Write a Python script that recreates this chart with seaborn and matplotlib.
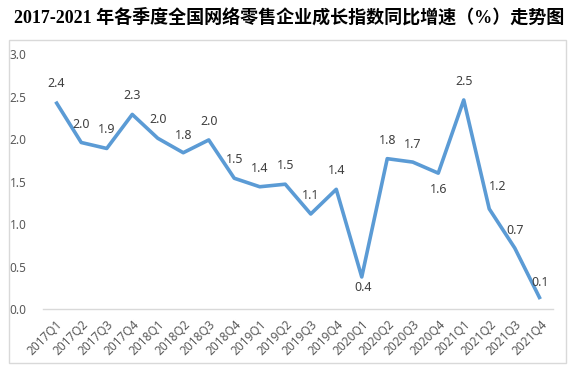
import matplotlib
matplotlib.use("Agg")
import matplotlib.pyplot as plt
import seaborn as sns
import pandas as pd
from matplotlib.patches import Rectangle

# dados
quarters = ['2017Q1', '2017Q2', '2017Q3', '2017Q4', '2018Q1', '2018Q2', '2018Q3', '2018Q4',
            '2019Q1', '2019Q2', '2019Q3', '2019Q4', '2020Q1', '2020Q2', '2020Q3', '2020Q4',
            '2021Q1', '2021Q2', '2021Q3', '2021Q4']
growth = [2.44, 1.96, 1.89, 2.29, 2.01, 1.84, 1.99, 1.54, 1.44, 1.47, 1.12, 1.41,
          0.38, 1.77, 1.73, 1.60, 2.46, 1.18, 0.72, 0.12]
yticks = [0.0, 0.5, 1.0, 1.5, 2.0, 2.5, 3.0]
title = '2017-2021 年各季度全国网络零售企业成长指数同比增速（%）走势图'

# deslocamento dos rotulos (pixels)
label_dx = [0, 0, 0, 0, 0, 0, 0, 0, 0, 0, 0, 0, 1, 0, 0, 0, 0, 8, 0, 0]
label_dy = [17, 17, 17, 17, 17, 16, 17, 17, 17, 17, 17, 17, -9, 17, 16, -15, 17, 21, 16, 15]

sns.set_theme(style='white')
plt.rcParams['font.family'] = ['Noto Sans', 'Noto Sans CJK SC', 'DejaVu Sans']

df = pd.DataFrame({'quarter': quarters, 'growth': growth})

fig = plt.figure(figsize=(5.78, 3.71), dpi=100)
fig.patches.append(Rectangle((9 / 578, 1 - 363 / 371), 557 / 578, 323 / 371,
                             transform=fig.transFigure, fill=False,
                             edgecolor='#D9D9D9', linewidth=1))
ax = fig.add_axes([43 / 578, 1 - 309.3 / 371, 510 / 578, (309.3 - 54) / 371])

sns.lineplot(data=df, x='quarter', y='growth', sort=False, color='#5B9BD5',
             linewidth=2.6, ax=ax)
for line in ax.lines:
    line.set_solid_joinstyle('round')
    line.set_solid_capstyle('butt')

for i, v in enumerate(growth):
    va = 'bottom' if label_dy[i] > 0 else 'top'
    ax.annotate(f'{v:.1f}', (i, v), xytext=(label_dx[i], label_dy[i] - (5 if va == 'bottom' else -5)),
                textcoords='offset pixels', ha='center', va=va, fontsize=9, color='#404040')

ax.set_xlim(-0.5, len(quarters) - 0.5)
ax.set_ylim(0, 3.0)
ax.set_yticks(yticks)
ax.set_yticklabels([f'{t:.1f}' for t in yticks], fontsize=8.5, color='#595959')
ax.set_xlabel('')
ax.set_ylabel('')
ax.tick_params(axis='both', length=0)
ax.tick_params(axis='y', pad=12)
ax.set_xticks(range(len(quarters)))
ax.set_xticklabels(quarters, rotation=45, ha='right', va='top', rotation_mode='anchor',
                   fontsize=8.5, color='#595959')
ax.tick_params(axis='x', pad=6)
for s in ['left', 'right', 'top']:
    ax.spines[s].set_visible(False)
ax.spines['bottom'].set_color('#D9D9D9')
ax.spines['bottom'].set_linewidth(1)

fig.text(0.5, 1 - 17 / 371, title, ha='center', va='center', fontsize=13,
         fontweight='bold', color='#000000', family=['Liberation Serif', 'Noto Sans CJK SC'])

fig.savefig('out.png', dpi=100)
